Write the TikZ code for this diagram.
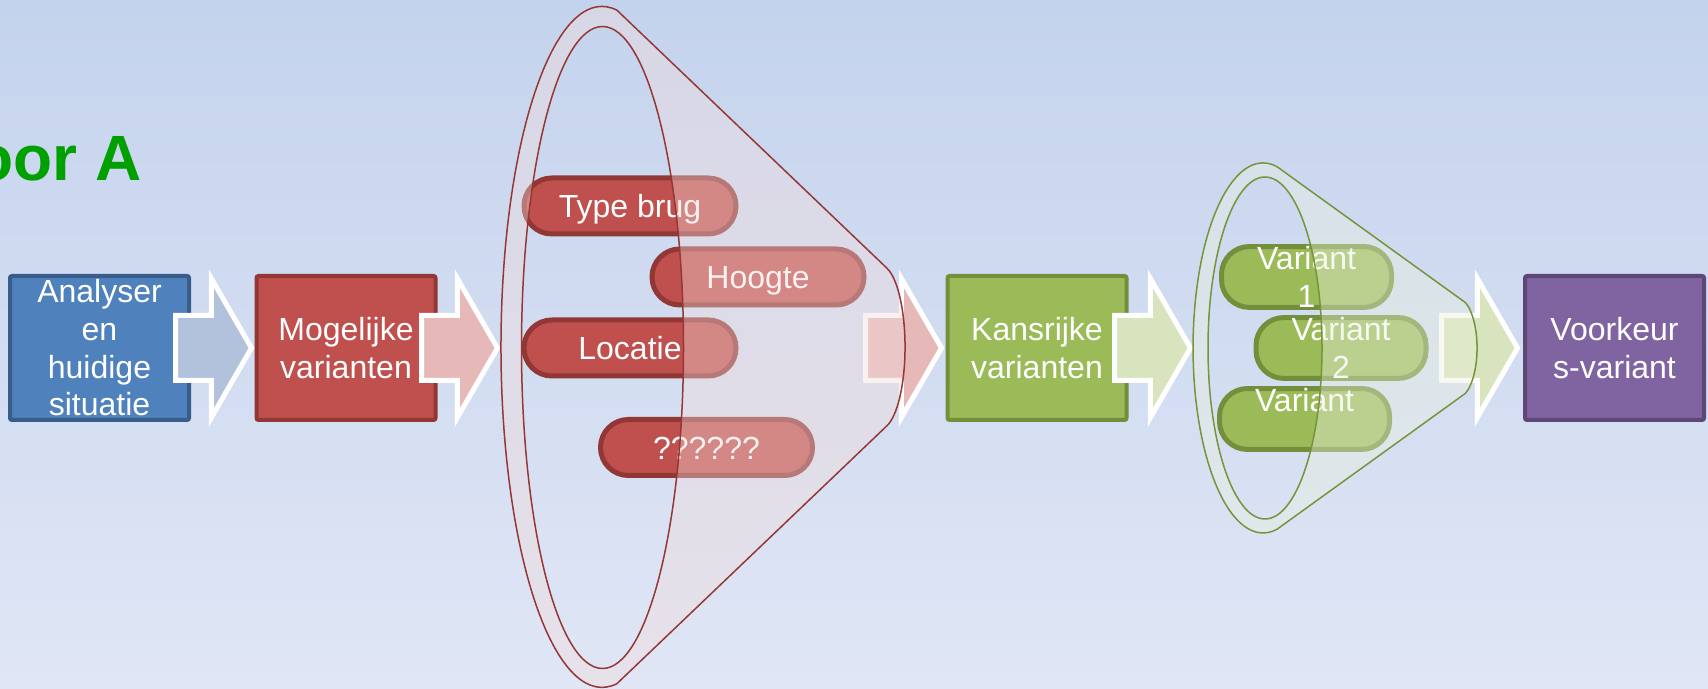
\documentclass[tikz,border=0pt]{standalone}
\usepackage{fontspec}
\setmainfont{Liberation Sans}
\usetikzlibrary{shapes.arrows,positioning}
\definecolor{bgtop}{RGB}{196,211,237}
\definecolor{bgbottom}{RGB}{224,230,245}
\definecolor{titlegreen}{RGB}{0,160,0}
\definecolor{blueface}{RGB}{79,129,189}
\definecolor{blueedge}{RGB}{56,93,138}
\definecolor{redface}{RGB}{192,80,77}
\definecolor{rededge}{RGB}{145,55,53}
\definecolor{greenface}{RGB}{155,187,89}
\definecolor{greenedge}{RGB}{116,143,60}
\definecolor{purpleface}{RGB}{128,100,162}
\definecolor{purpleedge}{RGB}{92,71,118}
\definecolor{bluearrow}{RGB}{178,194,220}
\definecolor{redarrow}{RGB}{230,185,184}
\definecolor{greenarrow}{RGB}{215,228,189}
\definecolor{redfunnel}{RGB}{242,220,219}
\definecolor{greenfunnel}{RGB}{235,241,222}
\definecolor{redline}{RGB}{149,55,53}
\definecolor{greenline}{RGB}{119,147,60}
\tikzset{
    stage/.style={draw, line width=2pt, rounded corners=1pt, minimum width=89.5pt,
      minimum height=72pt, inner sep=0pt, align=center, text=white,
      font=\fontsize{16}{18.85}\selectfont},
    blockarrow/.style={single arrow, draw=white, line width=2.5pt, minimum height=38pt,
      single arrow head extend=18.5pt, single arrow tip angle=120,
      inner xsep=0pt, inner ysep=15pt, outer sep=0pt, anchor=tail},
    pill/.style={draw, line width=2.5pt, rounded corners=13.9pt, minimum height=28pt,
      inner sep=0pt, align=center, text=white, font=\fontsize{16}{18.85}\selectfont},
    redpill/.style={pill, fill=redface, draw=rededge, minimum width=106pt,
      text height=12.5pt, text depth=0.8pt},
    greenpill/.style={pill, fill=greenface, draw=greenedge, minimum width=85pt},
    funnel/.style={line width=0.75pt, fill opacity=0.4, even odd rule},
}

\begin{document}
\begin{tikzpicture}[x=0.5pt,y=0.5pt]
    \shade[top color=bgtop, bottom color=bgbottom] (0,0) rectangle (1708,689);
    \useasboundingbox (0,0) rectangle (1708,689);

    \node[anchor=base east, inner sep=0pt, text=titlegreen,
      font=\fontsize{32}{38}\selectfont\bfseries] (titel) at (142,508) {oor A};

    \node[stage, fill=blueface, draw=blueedge]     (analyse)  at (99.5,341)  {Analyser\\en\\huidige\\situatie};
    \node[stage, fill=redface, draw=rededge]       (mogelijk) at (346,341)   {Mogelijke\\varianten};
    \node[stage, fill=greenface, draw=greenedge]   (kansrijk) at (1037,341)  {Kansrijke\\varianten};
    \node[stage, fill=purpleface, draw=purpleedge] (voorkeur) at (1614.5,341) {Voorkeur\\s-variant};

    \node[blockarrow, fill=bluearrow]  (pijl1) at (175.5,341)  {};
    \node[blockarrow, fill=redarrow]   (pijl2) at (421.5,341)  {};
    \node[blockarrow, fill=greenarrow] (pijl4) at (1114.5,341) {};
    \node[blockarrow, fill=redarrow]   (pijl3) at (865.5,341)  {};

    % eerste trechter
    \node[redpill] (typebrug) at (630,483)     {Type brug};
    \node[redpill] (hoogte)   at (758,412)     {Hoogte};
    \node[redpill] (locatie)  at (630,341)     {Locatie};
    \node[redpill] (overig)   at (706.5,241.5) {??????};
    \draw[funnel, draw=redline, fill=redfunnel]
      (616.9,678.8) arc[start angle=81.5, end angle=278.5, x radius=101, y radius=340.5]
      -- (886.5,262.8) arc[start angle=-75, end angle=75, x radius=25, y radius=82] -- cycle
      (602.5,341.5) ellipse[x radius=81, y radius=321];

    % tweede trechter
    \node[blockarrow, fill=greenarrow] (pijl5) at (1441.5,341) {};
    \node[greenpill] (variant1) at (1306.5,412) {Variant\\1};
    \node[greenpill] (variant2) at (1341,341)   {Variant\\2};
    \node[greenpill] (variant3) at (1304.5,270) {Variant\\\mbox{}};
    \draw[funnel, draw=greenline, fill=greenfunnel]
      (1277,522.3) arc[start angle=78.5, end angle=281.5, x radius=70, y radius=185]
      -- (1465.5,295.7) arc[start angle=-65, end angle=65, x radius=20, y radius=50] -- cycle
      (1265,341) ellipse[x radius=57, y radius=171];
\end{tikzpicture}
\end{document}
